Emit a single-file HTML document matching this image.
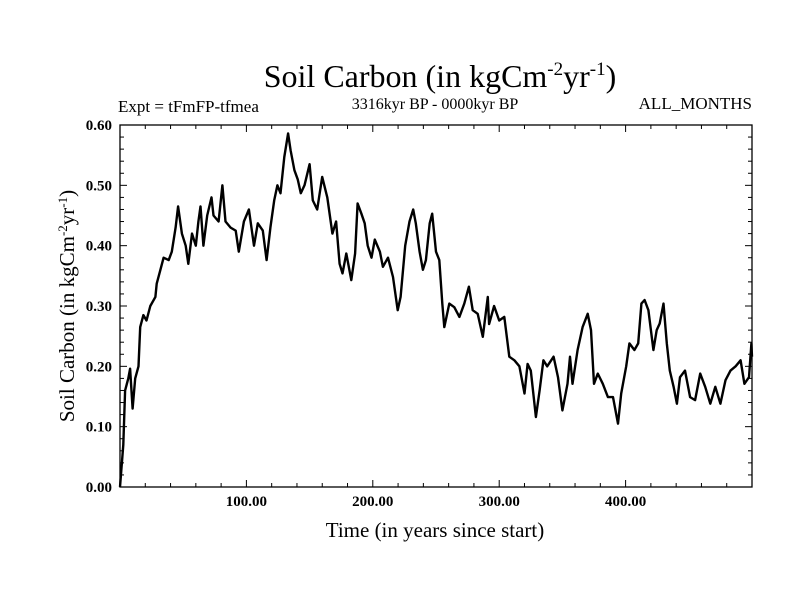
<!DOCTYPE html>
<html><head><meta charset="utf-8"><style>
body{margin:0;background:#fff;}
svg{display:block;font-family:"Liberation Serif",serif;}
</style></head><body>
<svg width="800" height="600" id="chart">
<rect width="800" height="600" fill="#fff"/>
<text x="440" y="87" font-size="32" text-anchor="middle">Soil Carbon (in kgCm<tspan dy="-12" font-size="19">-2</tspan><tspan dy="12">yr</tspan><tspan dy="-12" font-size="19">-1</tspan><tspan dy="12">)</tspan></text>
<text x="118" y="112" font-size="17">Expt = tFmFP-tfmea</text>
<text x="435" y="109" font-size="16" text-anchor="middle">3316kyr BP - 0000kyr BP</text>
<text x="752" y="109" font-size="17" text-anchor="end">ALL_MONTHS</text>
<text x="435" y="537" font-size="21" text-anchor="middle">Time (in years since start)</text>
<text transform="translate(74,306) rotate(-90)" font-size="21" text-anchor="middle">Soil Carbon (in kgCm<tspan dy="-7" font-size="13">-2</tspan><tspan dy="7">yr</tspan><tspan dy="-7" font-size="13">-1</tspan><tspan dy="7">)</tspan></text>
<g id="axes"></g>
<g id="series"></g>
<rect x="120" y="125" width="632" height="362" fill="none" stroke="#000" stroke-width="1.3"/>
</svg>
<script>
const years=[0,2.6,4,5.3,6.6,8,10,12,14.6,16,18.5,21,24,28,29,32,34.5,38.5,41,44,46,49,52,54,57,60,62,63.7,66,69,72.4,74,78,81,83.5,87.5,91.5,94,98,102,106,109,113,116,119,122,124.5,127,130,133,135,138,140.6,143,146,150,152.5,156,160,164,168,171,173.7,176,179,183,186,188,191,193.6,196,199,201.6,205.6,208,212,216,219.7,222,225.6,229,232,234,237,239.6,242,245,247,250,252.6,255,256.6,260.5,264.5,268.5,272.4,276,279,283,287,291,292,296,300,304,308,312,316,320,322.5,325,329,332,335,338,343,346.5,350,354,356,358,362,366,370,372.6,375,378,382,386,390,394,396.5,400.5,403,407,410,412.5,415,418,422,424.6,427,430,432.6,435,438,440.6,443,447,451,455,459,463,467,471,475,479,483,487,491,494,497.6,499.5,500];
const carbon=[0,0.07,0.16,0.17,0.18,0.196,0.13,0.18,0.2,0.265,0.285,0.276,0.30,0.315,0.337,0.36,0.38,0.376,0.39,0.43,0.465,0.42,0.40,0.37,0.42,0.40,0.44,0.465,0.40,0.45,0.48,0.45,0.44,0.50,0.44,0.43,0.425,0.39,0.44,0.46,0.40,0.437,0.425,0.376,0.43,0.475,0.50,0.487,0.547,0.586,0.558,0.525,0.51,0.487,0.50,0.535,0.475,0.46,0.514,0.48,0.42,0.44,0.37,0.354,0.387,0.343,0.387,0.47,0.453,0.437,0.40,0.38,0.41,0.39,0.365,0.38,0.348,0.293,0.315,0.40,0.44,0.46,0.437,0.39,0.36,0.376,0.437,0.453,0.39,0.376,0.304,0.265,0.304,0.298,0.282,0.304,0.332,0.293,0.287,0.249,0.315,0.27,0.30,0.276,0.282,0.216,0.21,0.20,0.155,0.204,0.193,0.116,0.16,0.21,0.20,0.216,0.182,0.127,0.171,0.216,0.171,0.227,0.265,0.287,0.26,0.171,0.188,0.171,0.149,0.149,0.105,0.155,0.20,0.238,0.227,0.238,0.304,0.31,0.293,0.227,0.26,0.271,0.304,0.238,0.193,0.166,0.138,0.182,0.193,0.149,0.144,0.188,0.166,0.138,0.166,0.138,0.177,0.193,0.20,0.21,0.171,0.182,0.238,0.216];
const xTickLabels=["100.00","200.00","300.00","400.00"];
const xTickValues=[100,200,300,400];
const yTickLabels=["0.00","0.10","0.20","0.30","0.40","0.50","0.60"];
const yTickValues=[0,0.1,0.2,0.3,0.4,0.5,0.6];

const X0=120,X1=752,Y0=487,Y1=125,XMAX=500,YMAX=0.6;
function sx(v){return X0+(X1-X0)*v/XMAX;}
function sy(v){return Y0-(Y0-Y1)*v/YMAX;}
const NS="http://www.w3.org/2000/svg";
const axes=document.getElementById('axes');
function line(x1,y1,x2,y2,name){
  const l=document.createElementNS(NS,'line');
  l.setAttribute('x1',x1);l.setAttribute('y1',y1);l.setAttribute('x2',x2);l.setAttribute('y2',y2);
  l.setAttribute('stroke','#000');l.setAttribute('stroke-width','1');
  
  
  axes.appendChild(l);
}
for(let v=20;v<XMAX;v+=20){
  const major=v%100===0, len=major?7:4, x=sx(v);
  line(x,Y0,x,Y0-len,'x-tick');
  line(x,Y1,x,Y1+len,'x-tick-top');
}
for(let i=1;i<30;i++){
  const v=i*0.02, major=i%5===0, len=major?7:4, y=sy(v);
  line(X0,y,X0+len,y,'y-tick');
  line(X1,y,X1-len,y,'y-tick-right');
}
xTickValues.forEach((v,i)=>{
  const t=document.createElementNS(NS,'text');
  t.setAttribute('x',sx(v));t.setAttribute('y',506);t.setAttribute('font-size','15');
  t.setAttribute('font-weight','bold');
  t.setAttribute('text-anchor','middle');
  t.textContent=xTickLabels[i];
  
  
  axes.appendChild(t);
});
yTickValues.forEach((v,i)=>{
  const t=document.createElementNS(NS,'text');
  t.setAttribute('x',112);t.setAttribute('y',sy(v)+5);t.setAttribute('font-size','15');
  t.setAttribute('font-weight','bold');
  t.setAttribute('text-anchor','end');
  t.textContent=yTickLabels[i];
  
  
  axes.appendChild(t);
});
const p=document.createElementNS(NS,'polyline');
p.setAttribute('points',years.map((y,i)=>sx(y).toFixed(1)+','+sy(carbon[i]).toFixed(1)).join(' '));
p.setAttribute('fill','none');p.setAttribute('stroke','#000');p.setAttribute('stroke-width','2.4');
p.setAttribute('stroke-linejoin','round');


document.getElementById('series').appendChild(p);
</script>
</body></html>
